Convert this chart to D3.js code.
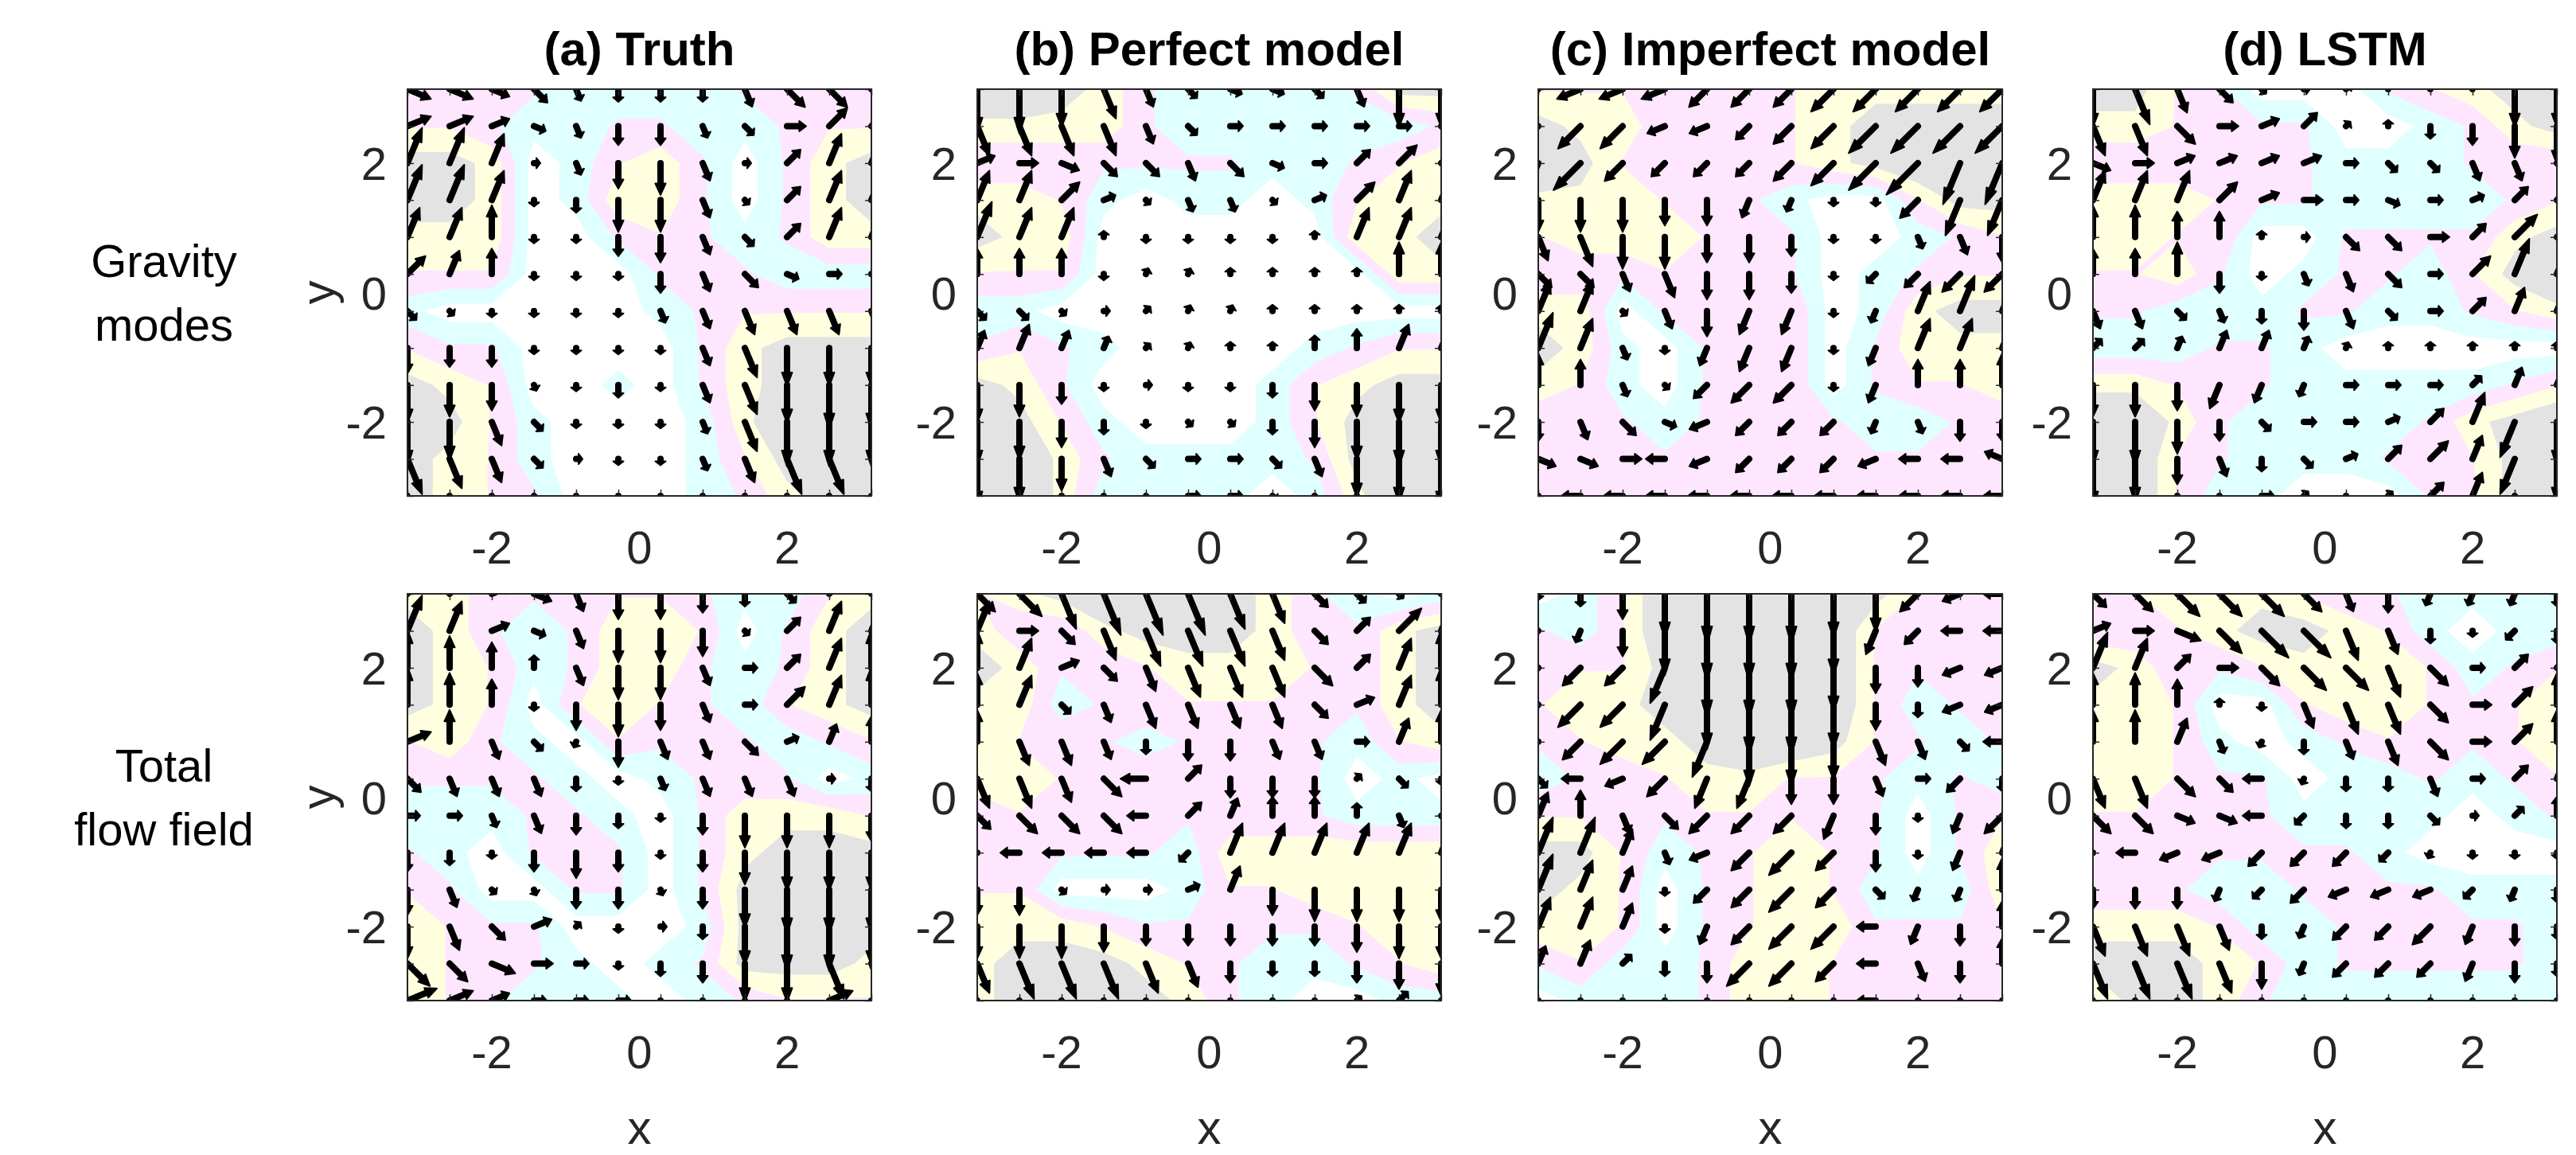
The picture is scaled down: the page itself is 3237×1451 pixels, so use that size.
<!DOCTYPE html>
<html>
<head>
<meta charset="utf-8">
<script src="https://cdn.jsdelivr.net/npm/d3@7"></script>
<style>
  body { margin: 0; background: #fff; }
  text { font-family: "Liberation Sans", Arial, sans-serif; }
</style>
</head>
<body>
<svg id="chart" width="3237" height="1451"></svg>
<script>
// each token: direction (hex, 0 = east, counter-clockwise in 22.5 deg steps) + magnitude digit
// rows run from y = pi (top) down to y = -pi, columns from x = -pi to pi
const gravityTruth = [
  "f4 f4 f3 e3 d2 c2 c2 c2 d3 e4 e4 e4",
  "14 14 13 f2 d2 c3 c3 d2 e2 03 24 24",
  "36 36 35 01 d2 c4 c5 d3 01 23 35 36",
  "36 36 35 c1 c2 c5 c5 d3 e1 23 35 36",
  "35 35 45 c1 c1 c3 c4 d3 e2 23 35 35",
  "24 34 44 c1 c1 c1 c3 d3 e3 f2 02 02",
  "e2 e1 c1 c1 c1 c1 d2 d3 d4 d4 d4 d4",
  "c4 c3 c3 c1 c1 c1 c1 d3 d5 c6 c6 c6",
  "c6 c5 c4 d1 c1 c2 c1 d3 d5 c6 c7 c7",
  "c7 c6 d4 e2 c1 c1 c1 d2 d5 c7 c7 c7",
  "d6 d5 d4 e2 01 c1 c1 d2 d4 d6 d6 d6",
  "d6 d5 d4 e3 c1 c1 c1 d2 d3 d5 d6 d6"
];
const gravityPerfect = [
  "c7 c7 c6 d5 d3 e2 f2 f2 e2 d3 c6 c6",
  "d5 d5 d5 d5 d3 e2 02 02 02 02 02 e3",
  "13 03 f3 e3 e3 d3 e3 f2 02 23 24 25",
  "35 35 24 12 e1 d2 d2 e1 12 24 35 35",
  "36 35 35 41 c1 c1 c1 c1 41 35 35 36",
  "44 44 44 c1 31 31 41 41 41 41 45 45",
  "e2 e2 e1 01 21 31 31 41 41 41 41 41",
  "33 34 33 32 21 31 41 41 42 43 34 34",
  "c6 c5 c3 c1 01 c1 c1 c2 c4 c5 c6 c6",
  "c7 c6 c4 c2 c1 e1 e1 c2 c4 c6 c7 c7",
  "c8 c7 c5 d3 e2 02 02 e2 d3 c6 c7 c8",
  "c8 c7 c5 d2 e2 02 02 e1 c2 c5 c7 c8"
];
const gravityImperfect = [
  "a4 94 94 94 a4 a4 a4 a5 a5 a5 a5 a5",
  "a6 a5 a5 93 93 a3 a4 a5 a6 a6 a6 a6",
  "b7 a6 a4 a3 a3 a3 a4 a5 a6 a7 b7 b7",
  "c5 c5 c5 c4 c4 b3 b2 c1 c1 a4 b6 b6",
  "d4 d5 c5 c5 c4 c4 c3 c1 c1 d2 d3 c4",
  "e3 e3 d3 d4 c4 c4 c3 c1 a2 a3 a4 a4",
  "35 35 e1 d3 c4 b4 b4 c1 b2 35 36 36",
  "36 35 d2 c1 b3 b4 b4 c1 b3 35 35 35",
  "45 44 d2 e1 a3 a4 a4 c1 b3 44 44 45",
  "c3 d3 e3 f2 93 a3 a3 a3 b2 d2 c3 c3",
  "f3 f3 03 83 93 a3 a3 a3 93 83 83 73",
  "83 83 83 83 83 83 83 83 83 83 83 83"
];
const gravityLSTM = [
  "c6 d6 d4 e3 e1 01 21 33 34 35 c6 c6",
  "d5 d5 e4 03 13 23 21 41 c2 c3 c5 c6",
  "f3 03 13 13 13 13 02 e2 e2 d3 d3 e3",
  "35 35 35 24 13 03 02 f2 02 12 23 24",
  "45 45 44 44 41 01 e3 e3 03 23 25 26",
  "44 44 45 c3 c1 d2 d3 e3 02 24 36 37",
  "d3 d3 e2 d2 c2 c3 d3 e2 02 23 34 35",
  "22 22 32 33 33 32 31 41 41 41 41 41",
  "c5 c5 c4 b4 b3 b2 02 02 02 22 33 34",
  "c7 c7 c5 c3 e2 02 02 12 23 35 b6 c7",
  "c8 c7 c4 d3 c2 e2 12 23 24 34 b6 c7",
  "c8 c7 c4 d2 02 21 c1 21 23 34 b6 c7"
];
const totalTruth = [
  "25 25 13 f3 d3 c4 c4 c3 c2 e2 24 25",
  "36 35 13 f2 d3 c5 c5 c4 e1 23 35 36",
  "46 45 44 42 d3 c5 c5 d3 02 23 35 46",
  "46 45 44 c1 c4 c5 c4 d3 02 24 35 46",
  "14 45 d3 e2 b1 c4 d3 d3 e3 12 33 44",
  "e3 d3 d3 d3 c2 c1 d2 d3 d3 d3 01 c2",
  "02 02 d2 d3 c3 c2 c1 c3 c5 c5 c5 c4",
  "c3 c2 c1 c3 c4 c3 c1 c3 c5 c6 c6 c6",
  "c4 d3 e1 d1 c3 c3 d1 c3 c6 c7 c7 c7",
  "c5 d4 e3 13 21 c1 01 c2 c6 c7 c7 c6",
  "e5 e4 f4 03 02 c1 c2 c3 c6 c6 d6 d5",
  "15 14 13 02 02 02 c1 c2 c3 c4 14 14"
];
const totalPerfect = [
  "e4 e5 d6 d7 d7 d7 d6 d5 e3 e2 e1 02",
  "35 03 e3 d5 d6 d6 d6 d5 e3 23 25 36",
  "46 35 13 e3 d4 d5 d5 d5 e4 23 35 46",
  "45 35 e2 d3 d4 d4 d4 d4 e3 13 35 46",
  "45 d4 d4 d3 c2 c3 c3 d3 d3 02 34 45",
  "d5 d5 d4 e4 84 23 c3 c3 c3 21 e2 c1",
  "e3 e4 e4 e4 83 23 33 43 43 42 d2 e2",
  "83 83 83 83 83 a2 35 35 35 35 35 35",
  "c4 c4 e1 01 01 12 34 c4 c5 c5 c5 c5",
  "c5 c5 c5 c4 c3 c3 c3 c3 c3 c4 c5 c5",
  "d5 d6 d6 d6 d5 d4 c3 c2 c2 c3 c4 c5",
  "d5 d6 d6 d6 d6 d5 c3 c2 c1 21 22 22"
];
const totalImperfect = [
  "c1 c2 c4 c7 c8 c8 c8 c7 c6 a4 93 83",
  "a3 b2 c4 c7 c8 c8 c8 c7 b4 a3 83 83",
  "a4 a4 a4 b6 c8 c8 c8 c7 c4 c3 93 93",
  "a4 a5 a5 b6 c7 c8 c8 c7 c4 c2 93 93",
  "83 a4 a5 a5 b6 c7 c7 c6 d4 d3 e2 83",
  "e2 83 93 a4 b5 b5 c4 c4 d3 02 a3 c2",
  "34 44 d3 e3 a4 a4 a4 b4 c3 c1 b3 a4",
  "36 36 34 d2 93 a4 a5 a4 c3 c1 b3 35",
  "36 35 34 c1 a3 a4 a5 a4 e2 b2 b2 45",
  "35 35 34 c1 b3 a4 a5 a5 83 b3 c3 44",
  "33 34 22 c2 c3 a5 a5 a4 83 d3 c3 44",
  "c1 c2 c2 c2 c3 b5 b5 b4 83 e3 e3 e3"
];
const totalLSTM = [
  "e3 e4 e5 e5 e5 e4 d3 c3 b2 b2 b2 c2",
  "13 03 f4 e5 e6 e6 d5 d4 c2 c1 a2 c2",
  "36 35 23 03 e4 e5 e5 d5 e4 02 23 24",
  "45 45 44 41 c1 d4 d5 d5 e4 03 24 45",
  "45 45 34 d2 b1 c2 d3 d4 e4 03 24 45",
  "d5 d5 e4 e3 83 b1 c2 c2 d3 02 23 34",
  "e4 e4 f3 f3 83 a2 c2 c2 e2 01 22 43",
  "83 83 93 93 a3 a3 a3 a2 b1 c1 c1 c1",
  "c3 c3 c3 b2 a2 a3 93 93 93 a2 b2 c2",
  "d5 d5 d5 d4 c2 b2 a3 a3 a4 b3 c3 c2",
  "d6 d6 d6 d5 c4 b2 a3 a3 a3 b3 c3 c2",
  "d4 d6 d6 d5 d3 c2 b2 a2 b2 c2 c2 c2"
];

const titles = ["(a) Truth", "(b) Perfect model", "(c) Imperfect model", "(d) LSTM"];
const rowLabels = [["Gravity", "modes"], ["Total", "flow field"]];
const fields = [
  [gravityTruth, gravityPerfect, gravityImperfect, gravityLSTM],
  [totalTruth, totalPerfect, totalImperfect, totalLSTM]
];
const tickLabels = [-2, 0, 2];
const levels = [1.6, 2.8, 4.1, 5.4];
const levelColors = ["#e0ffff", "#ffe6ff", "#ffffe0", "#e3e3e3"];

const N = 12;
const step = 2 * Math.PI / (N - 1);
const gridX = d3.range(N).map(i => -Math.PI + i * step);

const panelLeft = [512, 1228, 1933, 2630];
const panelTop = [112, 746];
const pw = 583, ph = 511;
const axisColor = "#262626";

const svg = d3.select("#chart");

function parse(rows) {
  const pts = [];
  rows.forEach((r, j) => {
    r.trim().split(/\s+/).forEach((tok, i) => {
      const ang = parseInt(tok[0], 16) * Math.PI / 8;
      const m = +tok[1];
      pts.push({ x: gridX[i], y: Math.PI - j * step, ang, m });
    });
  });
  return pts;
}

fields.forEach((row, r) => {
  row.forEach((rows, c) => {
    const pts = parse(rows);
    const x = d3.scaleLinear().domain([-Math.PI, Math.PI]).range([0, pw]);
    const y = d3.scaleLinear().domain([-Math.PI, Math.PI]).range([ph, 0]);
    const g = svg.append("g").attr("transform", `translate(${panelLeft[c]},${panelTop[r]})`);
    const clipId = `clip-${r}-${c}`;
    g.append("clipPath").attr("id", clipId).append("rect").attr("width", pw).attr("height", ph);

    // filled contours of arrow magnitude
    const values = pts.map(p => p.m);
    const contours = d3.contours().size([N, N]).thresholds(levels)(values);
    const gx = d3.scaleLinear().domain([0.5, N - 0.5]).range([0, pw]);
    const gy = d3.scaleLinear().domain([0.5, N - 0.5]).range([0, ph]);
    const proj = d3.geoTransform({
      point: function(px, py) { this.stream.point(gx(px), gy(py)); }
    });
    const plot = g.append("g").attr("clip-path", `url(#${clipId})`);
    plot.append("rect").attr("width", pw).attr("height", ph).attr("fill", "#fff");
    plot.selectAll("path.lev").data(contours).join("path")
      .attr("class", "lev")
      .attr("d", d3.geoPath(proj))
      .attr("fill", (d, k) => levelColors[k]);

    // arrows (clipped to the axes like MATLAB)
    const unit = 8;
    const arrows = plot.append("g").attr("stroke", "#000").attr("fill", "none")
      .attr("stroke-width", 8).attr("stroke-linecap", "round").attr("stroke-linejoin", "round");
    pts.forEach(p => {
      const L = p.m * unit;
      if (L <= 0) return;
      const x0 = x(p.x), y0 = y(p.y);
      const dx = Math.cos(p.ang), dy = -Math.sin(p.ang);
      const x1 = x0 + dx * L, y1 = y0 + dy * L;
      const h = Math.max(5, L * 0.36), w = 6.5;
      const bx = x1 - dx * h, by = y1 - dy * h;
      arrows.append("path").attr("d", `M${x0},${y0}L${bx},${by}`);
      arrows.append("path").attr("fill", "#000").attr("stroke-width", 2)
        .attr("d", `M${x1},${y1}L${bx - dy * w},${by + dx * w}L${bx + dy * w},${by - dx * w}Z`);
    });

    // axes
    const axG = g.append("g");
    axG.append("g").attr("transform", `translate(0,${ph})`)
      .call(d3.axisBottom(x).tickValues(gridX).tickSize(-8).tickFormat(""));
    axG.append("g")
      .call(d3.axisTop(x).tickValues(gridX).tickSize(-8).tickFormat(""));
    axG.append("g")
      .call(d3.axisLeft(y).tickValues(gridX).tickSize(-8).tickFormat(""));
    axG.append("g").attr("transform", `translate(${pw},0)`)
      .call(d3.axisRight(y).tickValues(gridX).tickSize(-8).tickFormat(""));
    axG.selectAll(".domain").remove();
    axG.selectAll("line").attr("stroke", axisColor).attr("stroke-width", 1.5);
    g.append("rect").attr("width", pw).attr("height", ph)
      .attr("fill", "none").attr("stroke", axisColor).attr("stroke-width", 2);

    g.selectAll("text.xt").data(tickLabels).join("text").attr("class", "xt")
      .attr("x", d => x(d)).attr("y", ph + 85).attr("text-anchor", "middle")
      .attr("font-size", 58).attr("fill", axisColor).text(d => d);
    g.selectAll("text.yt").data(tickLabels).join("text").attr("class", "yt")
      .attr("x", -26).attr("y", d => y(d) + 21).attr("text-anchor", "end")
      .attr("font-size", 58).attr("fill", axisColor).text(d => d);

    if (r === 0) {
      g.append("text").attr("x", pw / 2).attr("y", -30).attr("text-anchor", "middle")
        .attr("font-size", 60).attr("font-weight", "bold").text(titles[c]);
    }
    if (r === 1) {
      g.append("text").attr("x", pw / 2).attr("y", ph + 180).attr("text-anchor", "middle")
        .attr("font-size", 60).attr("fill", axisColor).text("x");
    }
    if (c === 0) {
      g.append("text").attr("transform", `translate(-92,${ph / 2}) rotate(-90)`)
        .attr("text-anchor", "middle").attr("font-size", 60).attr("fill", axisColor).text("y");
      rowLabels[r].forEach((t, k) => {
        g.append("text").attr("x", 206 - panelLeft[0]).attr("y", ph / 2 - 20 + k * 80)
          .attr("text-anchor", "middle").attr("font-size", 58).attr("fill", "#000").text(t);
      });
    }
  });
});
</script>
</body>
</html>
